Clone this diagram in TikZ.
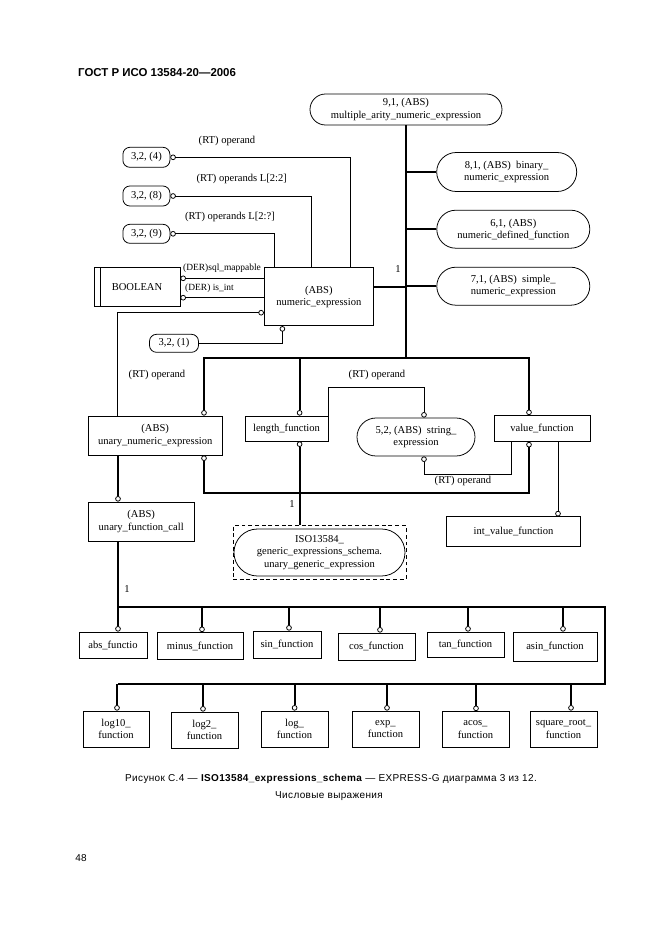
\documentclass[tikz,border=0pt]{standalone}
\usepackage{fontspec}
\setmainfont{Liberation Serif}
\setsansfont{Liberation Sans}
\usetikzlibrary{shapes.misc,arrows.meta,fit}
\newdimen\unitpx \unitpx=0.9pt

\begin{document}
\begin{tikzpicture}[
    x=0.9pt, y=-0.9pt,
    sz/.style 2 args={minimum width=#1\unitpx, minimum height=#2\unitpx},
    ent/.style={rectangle, draw, line width=0.7pt, align=center, inner sep=0pt, font=\fontsize{9.5}{11}\selectfont},
    refov/.style={rectangle, draw, line width=0.7pt, rounded corners=7\unitpx, inner sep=0pt, font=\fontsize{9.5}{11}\selectfont},
    typov/.style={rounded rectangle, draw, line width=0.7pt, align=center, inner sep=0pt, font=\fontsize{9.5}{11}\selectfont},
    lbl/.style={inner sep=0pt, font=\fontsize{9.5}{11}\selectfont},
    derlbl/.style={inner sep=0pt, font=\fontsize{8.5}{10}\selectfont},
    captxt/.style={inner sep=0pt, font=\sffamily\fontsize{9}{11}\selectfont\addfontfeature{LetterSpace=3.5}},
    rel/.style={line width=0.7pt, -{Circle[open, length=5pt, line width=0.7pt]}},
    sub/.style={line width=1.8pt},
    subc/.style={sub, -{Circle[open, length=5pt, line width=0.7pt]}},
    subcc/.style={sub, {Circle[open, length=5pt, line width=0.7pt]}-{Circle[open, length=5pt, line width=0.7pt]}}
]
\useasboundingbox (0,0) rectangle (661,936);
% Page header
\node[anchor=west, inner sep=0pt, font=\sffamily\bfseries\fontsize{10.3}{12}\selectfont] (hdr) at (78,72.8) {ГОСТ Р ИСО 13584-20—2006};
% numeric_expression and its supertype tree
\node[ent, sz={109}{58}] (numexp) at (318.8,296.7) {(ABS)\\numeric\_expression};
\node[typov, sz={192}{31}] (multi) at (406,109.5) {9,1, (ABS)\\multiple\_arity\_numeric\_expression};
\node[typov, sz={140}{39}] (binary) at (506.7,172) {8,1, (ABS)~ binary\_\\numeric\_expression};
\node[typov, sz={153}{38}] (defined) at (513.3,229.2) {6,1, (ABS)\\numeric\_defined\_function};
\node[typov, sz={153}{38}] (simple) at (513.3,286.2) {7,1, (ABS)~ simple\_\\numeric\_expression};
% Page references
\node[refov, sz={47}{20}] (ref4) at (146.4,157.3) {3,2, (4)};
\node[refov, sz={47}{20}] (ref8) at (146.4,196) {3,2, (8)};
\node[refov, sz={47}{19}] (ref9) at (146.4,233.8) {3,2, (9)};
\node[refov, sz={49}{18}] (ref1) at (174,343.3) {3,2, (1)};
% BOOLEAN
\node[ent, sz={86}{39}] (bool) at (137,287.2) {BOOLEAN};
\draw[line width=0.7pt] ([xshift=6.7\unitpx]bool.north west) -- ([xshift=6.7\unitpx]bool.south west);
% Second level
\node[ent, sz={134}{39}] (unary) at (155.2,435.5) {(ABS)\\unary\_numeric\_expression};
\node[ent, sz={83}{25}] (length) at (286.5,428.5) {length\_function};
\node[typov, sz={118}{38}] (strexp) at (416,437) {5,2, (ABS)~ string\_\\expression};
\node[ent, sz={96}{26}] (value) at (542,428.5) {value\_function};
\node[ent, sz={134}{30}] (intval) at (513.6,531.8) {int\_value\_function};
\node[ent, sz={106}{39}] (ufc) at (141.2,521.5) {(ABS)\\unary\_function\_call};
\node[typov, sz={171}{47}] (genexp) at (319.5,552.5) {ISO13584\_\\generic\_expressions\_schema.\\unary\_generic\_expression};
\node[draw, line width=0.7pt, dash pattern=on 3.5pt off 2.5pt, fit=(genexp), inner xsep=0.5pt, inner ysep=2.5pt] (genbox) {};
% Function boxes, first row
\node[ent, sz={68}{26}] (abs) at (113,645) {abs\_functio};
\node[ent, sz={86}{27}] (minus) at (200,646) {minus\_function};
\node[ent, sz={68}{27}] (sin) at (287,644.5) {sin\_function};
\node[ent, sz={77}{27}] (cos) at (376.5,646.5) {cos\_function};
\node[ent, sz={77}{25}] (tan) at (465.5,644.5) {tan\_function};
\node[ent, sz={84}{29}] (asin) at (555,646.5) {asin\_function};
% Function boxes, second row
\node[ent, sz={66}{36}] (logten) at (116,729) {log10\_\\function};
\node[ent, sz={67}{36}] (logtwo) at (204.5,730) {log2\_\\function};
\node[ent, sz={67}{36}] (log) at (294.5,729) {log\_\\function};
\node[ent, sz={67}{36}] (exp) at (385.5,729) {exp\_\\function};
\node[ent, sz={67}{36}] (acos) at (475.5,729.5) {acos\_\\function};
\node[ent, sz={67}{36}] (sqrt) at (563.5,729) {square\_root\_\\function};
% Attribute lines
\draw[rel] ([xshift=31.3\unitpx]numexp.north) |- (ref4);
\draw[rel] ([xshift=-7\unitpx]numexp.north) |- (ref8);
\draw[rel] ([xshift=-44.7\unitpx]numexp.north) |- (ref9);
\node[lbl] (lop) at (227,141) {(RT) operand};
\node[lbl] (lops) at (241.7,179) {(RT) operands L[2:2]};
\node[lbl] (lopm) at (230,217.3) {(RT) operands L[2:?]};
\coordinate (sqlend) at ([yshift=8.9\unitpx]bool.east);
\coordinate (intend) at ([yshift=-10.5\unitpx]bool.east);
\draw[rel] (numexp.west |- sqlend) -- (sqlend);
\draw[rel] (numexp.west |- intend) -- (intend);
\node[derlbl] (lsql) at (222,268.3) {(DER)sql\_mappable};
\node[derlbl] (lint) at (209.5,288.3) {(DER) is\_int};
\coordinate (unop) at ([yshift=-16\unitpx]numexp.west);
\draw[rel] ([xshift=-37.5\unitpx]unary.north) |- (unop);
\node[lbl] (lunop) at (157,374.6) {(RT) operand};
\draw[rel] (ref1) -| ([xshift=-36.4\unitpx]numexp.south);
\draw[rel] (length.north east) -- ++(0,-28.5) -| ([xshift=8\unitpx]strexp.north);
\node[lbl] (lstr) at (377,374.6) {(RT) operand};
\draw[rel] ([xshift=-31\unitpx]value.south) -- ++(0,32) -| ([xshift=8\unitpx]strexp.south);
\node[lbl] (lval) at (463,480.7) {(RT) operand};
\coordinate (ivtop) at ([xshift=16\unitpx]value.south);
\draw[rel] (ivtop) -- (ivtop |- intval.north);
% Subtype tree of numeric_expression
\coordinate (bus0l) at (204,358.3);
\coordinate (bus0m) at (299.6,358.3);
\coordinate (bus0r) at (529,358.3);
\coordinate (numend) at ([yshift=10\unitpx]numexp.east);
\draw[sub] (multi.south) -- (multi.south |- bus0l);
\draw[sub] (multi.south |- binary.west) -- (binary.west);
\draw[sub] (multi.south |- defined.west) -- (defined.west);
\draw[sub] (multi.south |- simple.west) -- (simple.west);
\draw[sub] (numend) -- (multi.south |- numend);
\node[lbl] (lone) at (398,269) {1};
\draw[subcc] (bus0l |- unary.north) -- (bus0l) -- (bus0r) -- (bus0r |- value.north);
\draw[subc] (bus0m) -- (bus0m |- length.north);
% Subtype tree of unary_generic_expression
\coordinate (bus1l) at (204,492.5);
\coordinate (bus1m) at (299.6,492.5);
\coordinate (bus1r) at (529,492.5);
\draw[subcc] (bus1l |- unary.south) -- (bus1l) -- (bus1r) -- (bus1r |- value.south);
\draw[subc] (bus1m |- genbox.north) -- (bus1m |- length.south);
\node[lbl] (ltwo) at (292,504) {1};
% Subtype tree of unary_function_call
\coordinate (bus2l) at (118,607);
\coordinate (bus2r) at (605,607);
\coordinate (bus3r) at (605,684);
\coordinate (bus3l) at (118,684);
\draw[subc] (bus2l |- unary.south) -- (bus2l |- ufc.north);
\draw[sub] (bus2l |- ufc.south) -- (bus2l) -- (bus2r) -- (bus3r) -- (bus3l);
\node[lbl] (lthree) at (127,589) {1};
\foreach \fn/\dx in {abs/118, minus/202, sin/289, cos/380, tan/468, asin/563} {
  \coordinate (d) at (\dx,607);
  \draw[subc] (d) -- (d |- \fn.north);
}
\foreach \fn/\dx in {logten/117, logtwo/203, log/294.6, exp/387, acos/476, sqrt/571} {
  \coordinate (d) at (\dx,684);
  \draw[subc] (d) -- (d |- \fn.north);
}
% Caption
\node[captxt] (capa) at (331,778.5) {Рисунок С.4 — \textbf{ISO13584\_expressions\_schema} — EXPRESS-G диаграмма 3 из 12.};
\node[captxt] (capb) at (329,796) {Числовые выражения};
\node[captxt] (pgno) at (81,858) {48};
\end{tikzpicture}
\end{document}
